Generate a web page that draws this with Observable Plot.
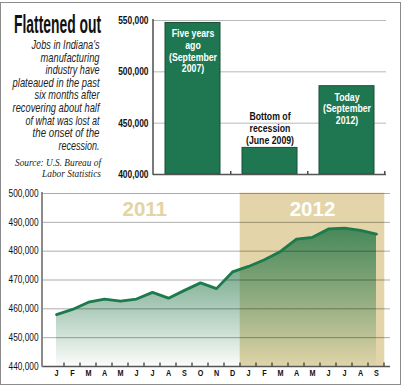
<!DOCTYPE html>
<html><head><meta charset="utf-8">
<script src="https://cdn.jsdelivr.net/npm/d3@7"></script>
<script src="https://cdn.jsdelivr.net/npm/@observablehq/plot@0.6"></script>
<style>
body{margin:0;background:#fff;}
#wrap{position:relative;width:404px;height:386px;overflow:hidden;background:#fff}
#wrap > svg, #wrap > div{position:absolute}
#frame{left:0;top:2px;width:401px;height:383px;border:1.5px solid #8c8c8c;box-sizing:border-box;pointer-events:none}
</style></head><body>
<div id="wrap"></div>
<script>
// ---------- data ----------
const titleText = "Flattened out";
const subtitleLines = ["Jobs in Indiana's", "manufacturing", "industry have", "plateaued in the past", "six months after", "recovering about half", "of what was lost at", "the onset of the", "recession."];
const subtitleWidths = [68, 59, 54, 87, 65, 87, 74, 67, 41];
const sourceLines = ["Source: U.S. Bureau of", "Labor Statistics"];
const sourceWidths = [86, 59];

const snapshots = ["Sep 2007", "Jun 2009", "Sep 2012"];
const snapshotJobs = [547600, 425900, 486000];
const snapshotLabels = ["Five years\nago\n(September\n2007)", "Bottom of\nrecession\n(June 2009)", "Today\n(September\n2012)"];
const snapshotLabelInside = [true, false, true];
const topTicks = [400000, 450000, 500000, 550000];

const months = ["2011-01","2011-02","2011-03","2011-04","2011-05","2011-06","2011-07","2011-08","2011-09","2011-10","2011-11","2011-12",
                "2012-01","2012-02","2012-03","2012-04","2012-05","2012-06","2012-07","2012-08","2012-09"];
const monthLetters = ["J","F","M","A","M","J","J","A","S","O","N","D","J","F","M","A","M","J","J","A","S"];
const jobs = [458000, 459800, 462300, 463400, 462700, 463400, 465700, 463700, 466400, 469000, 467000, 472800,
              474700, 477000, 479900, 484200, 484800, 487700, 488000, 487200, 485900];
const years = ["2011", "2012"];
const bottomTicks = [440000, 450000, 460000, 470000, 480000, 490000, 500000];

// ---------- helpers ----------
const NS = "http://www.w3.org/2000/svg";
function el(tag, attrs, text) {
  const e = document.createElementNS(NS, tag);
  for (const k in attrs) e.setAttribute(k, attrs[k]);
  if (text != null) e.textContent = text;
  return e;
}
const sans = "'Liberation Sans',Arial,sans-serif";
const wrap = document.getElementById("wrap");
// render transform: horizontally condense each text about its own anchor
const squeeze = s => (index, scales, values, dims, context, next) => {
  const g = next(index, scales, values, dims, context);
  if (g) g.querySelectorAll("text").forEach(t => {
    const x = parseFloat(t.getAttribute("x")) || 0;
    const tr = t.getAttribute("transform") || "";
    t.setAttribute("transform", `${tr} translate(${x},0) scale(${s},1) translate(${-x},0)`);
  });
  return g;
};

// ---------- left text panel ----------
const side = el("svg", {width: 150, height: 186, viewBox: "0 0 150 186"});
side.style.left = "0px"; side.style.top = "0px";
wrap.appendChild(side);
function fitLine(text, right, baseline, width, attrs) {
  const t = el("text", {x: 0, y: 0, "text-anchor": "end", ...attrs}, text);
  side.appendChild(t);
  const natural = t.getComputedTextLength() || width;
  t.setAttribute("transform", `translate(${right},${baseline}) scale(${width / natural},1)`);
}
fitLine(titleText, 101, 33, 87, {"font-family": sans, "font-weight": "bold", "font-size": 25, fill: "#111"});
subtitleLines.forEach((t, i) => fitLine(t, 99.5, 49 + i * 12.6, subtitleWidths[i],
  {"font-family": sans, "font-style": "italic", "font-size": 12.5, fill: "#222"}));
sourceLines.forEach((t, i) => fitLine(t, 101, 166.2 + i * 10.6, sourceWidths[i],
  {"font-family": "'Liberation Serif','DejaVu Serif',serif", "font-style": "italic", "font-size": 9.6, fill: "#222"}));

// ---------- top bar chart ----------
const PI = 0.28, PO = 0.14;
const topDomain = [400000, 550000];
const barData = snapshots.map((s, i) => ({period: s, jobs: snapshotJobs[i], label: snapshotLabels[i], inside: snapshotLabelInside[i]}));

function bandInfo(sx, n, dims, pi, po) {
  const fallbackStep = (dims.width - dims.marginLeft - dims.marginRight) / (n - pi + 2 * po);
  const step = typeof sx.step === "function" ? sx.step() : (sx.step ?? fallbackStep);
  const bw = typeof sx.bandwidth === "function" ? sx.bandwidth() : (sx.bandwidth ?? step * (1 - pi));
  return {step, bw};
}

const topPlot = Plot.plot({
  width: 404, height: 186,
  marginLeft: 153, marginRight: 18, marginTop: 20, marginBottom: 12,
  x: {domain: snapshots, paddingInner: PI, paddingOuter: PO, axis: null},
  y: {domain: topDomain, axis: null},
  style: {fontFamily: sans, background: "transparent"},
  marks: [
    Plot.gridY(topTicks.slice(1), {stroke: "#b8b8b8", strokeOpacity: 1, strokeWidth: 1}),
    Plot.barY(barData, {x: "period", y1: () => topDomain[0], y2: "jobs", fill: "#1f7752", stroke: "#1b4d34", strokeWidth: 1}),
    Plot.text(barData.filter(d => d.inside), {x: "period", y: "jobs", text: "label", lineAnchor: "top", dy: 6,
      fill: "white", fontWeight: "bold", fontSize: 11.5, lineHeight: 1.02, render: squeeze(0.76)}),
    Plot.text(barData.filter(d => !d.inside), {x: "period", y: "jobs", text: "label", lineAnchor: "bottom", dy: -4,
      fill: "#111", fontWeight: "bold", fontSize: 11.5, lineHeight: 1.02, render: squeeze(0.76)}),
    Plot.ruleY([topDomain[0]], {stroke: "#555", strokeWidth: 1.5}),
    (index, scales, values, dims) => {
      const g = el("g", {stroke: "#333", "stroke-width": 1.3, fill: "none"});
      const {step, bw} = bandInfo(scales.x, snapshots.length, dims, PI, PO);
      const y0 = scales.y(topDomain[0]);
      for (const s of snapshots) {
        const xb = scales.x(s) + bw + PI * step / 2;
        g.appendChild(el("line", {x1: xb, x2: xb, y1: y0, y2: y0 - 3}));
      }
      g.appendChild(el("line", {x1: dims.marginLeft, x2: dims.marginLeft, y1: scales.y(topDomain[1]) - 1, y2: y0 + 0.75}));
      return g;
    },
    Plot.text(topTicks, {y: d => d, text: d => d3.format(",")(d), frameAnchor: "left", textAnchor: "end", dx: -5,
      fontWeight: "bold", fontSize: 10.5, fill: "#111", render: squeeze(0.8)})
  ]
});
topPlot.style.left = "0px"; topPlot.style.top = "0px";
wrap.appendChild(topPlot);

// ---------- bottom line / area chart ----------
const B = {width: 404, height: 206, marginLeft: 42, marginRight: 14, marginTop: 13, marginBottom: 20};
const bottomDomain = [440000, 500000];
const series = months.map((m, i) => ({month: m, letter: monthLetters[i], jobs: jobs[i]}));
const months2012 = months.filter(m => m.startsWith(years[1]));
const months2011 = months.filter(m => m.startsWith(years[0]));
const monthStep = (B.width - B.marginLeft - B.marginRight) / months.length;

const bottomPlot = Plot.plot({
  ...B,
  x: {domain: months, padding: 0, axis: null},
  y: {domain: bottomDomain, axis: null},
  style: {fontFamily: sans, background: "transparent"},
  marks: [
    () => {
      const defs = el("defs", {});
      const lg = el("linearGradient", {id: "areaGrad", x1: 0, y1: 0, x2: 0, y2: 1});
      lg.appendChild(el("stop", {offset: "0%", "stop-color": "#2a7a4c", "stop-opacity": 0.85}));
      lg.appendChild(el("stop", {offset: "55%", "stop-color": "#2a7a4c", "stop-opacity": 0.42}));
      lg.appendChild(el("stop", {offset: "100%", "stop-color": "#2a7a4c", "stop-opacity": 0.02}));
      defs.appendChild(lg);
      return defs;
    },
    Plot.barY(months2012, {x: d => d, y1: () => bottomDomain[0], y2: () => bottomDomain[1], fill: "#e3d5a9", stroke: "#e3d5a9", strokeWidth: 0.6}),
    Plot.areaY(series, {x: "month", y1: () => bottomDomain[0], y2: "jobs", fill: "url(#areaGrad)"}),
    Plot.gridY(bottomTicks.slice(1), {stroke: "#000", strokeOpacity: 0.33, strokeWidth: 1}),
    Plot.lineY(series, {x: "month", y: "jobs", stroke: "#1d7a4c", strokeWidth: 2.8, strokeLinejoin: "round"}),
    Plot.text([years[0]], {x: () => months2011[months2011.length / 2 - 1], y: () => bottomDomain[1], dx: monthStep / 2, text: d => d,
      fill: "#e2d4a5", fontSize: 20.5, fontWeight: "bold", lineAnchor: "top", dy: 8}),
    Plot.text([years[1]], {x: () => months2012[Math.floor(months2012.length / 2)], y: () => bottomDomain[1], text: d => d,
      fill: "white", fontSize: 20.5, fontWeight: "bold", lineAnchor: "top", dy: 8}),
    Plot.ruleY([bottomDomain[0]], {stroke: "#555", strokeWidth: 1.5}),
    (index, scales, values, dims) => {
      const g = el("g", {fill: "none"});
      const {bw} = bandInfo(scales.x, months.length, dims, 0, 0);
      const y0 = scales.y(bottomDomain[0]);
      const ticks = el("g", {stroke: "#333", "stroke-width": 1.2});
      for (const m of months) {
        const xb = scales.x(m) + bw;
        ticks.appendChild(el("line", {x1: xb, x2: xb, y1: y0, y2: y0 - 3.5}));
      }
      g.appendChild(ticks);
      g.appendChild(el("line", {x1: dims.marginLeft, x2: dims.marginLeft, y1: scales.y(bottomDomain[1]) - 1, y2: y0 + 0.75,
        stroke: "#8a8a8a", "stroke-width": 2}));
      return g;
    },
    Plot.text(bottomTicks, {y: d => d, text: d => d3.format(",")(d), frameAnchor: "left", textAnchor: "end", dx: -4,
      fontSize: 10, fill: "#111", render: squeeze(0.83)}),
    Plot.text(series, {x: "month", y: () => bottomDomain[0], text: "letter", lineAnchor: "top", dy: 3.5,
      fontWeight: "bold", fontSize: 8.5, fill: "#111", render: squeeze(0.85)})
  ]
});
bottomPlot.style.left = "0px"; bottomPlot.style.top = "180px";
wrap.appendChild(bottomPlot);

const frame = document.createElement("div");
frame.id = "frame";
wrap.appendChild(frame);
</script>
</body></html>
